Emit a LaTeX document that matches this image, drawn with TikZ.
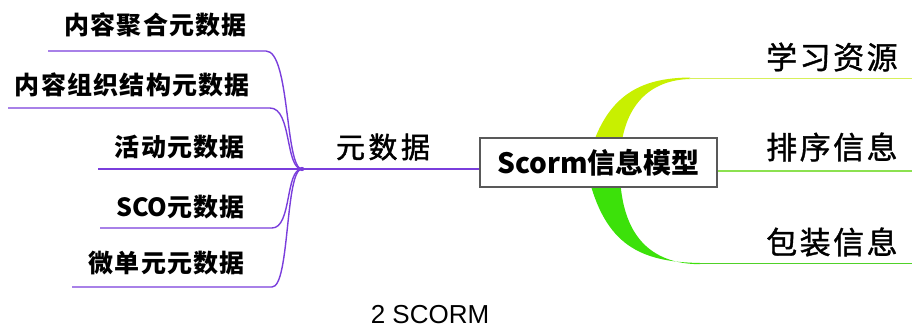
\documentclass[tikz,border=0pt]{standalone}
\usepackage{fontspec}
\setmainfont{Noto Sans CJK SC}
\newfontfamily\capfont{Liberation Sans}
\usetikzlibrary{shadows}
\definecolor{purp}{RGB}{122,62,220}
\definecolor{ygreen}{RGB}{200,240,0}
\definecolor{ylight}{RGB}{215,240,90}
\definecolor{mgreen}{RGB}{140,225,80}
\definecolor{bgreen}{RGB}{60,225,10}
\definecolor{bline}{RGB}{80,210,40}
\tikzset{
  leftlab/.style={anchor=east, inner sep=0pt, font=\fontsize{25}{28}\selectfont\bfseries\addfontfeatures{LetterSpace=5}},
  rightlab/.style={anchor=west, inner sep=0pt, font=\fontsize{31}{34}\selectfont\addfontfeatures{LetterSpace=8,FakeBold=1.2}},
  pline/.style={draw=purp, line width=1.4pt},
  centerbox/.style={draw=black!65, fill=white, line width=1.2pt, minimum width=237pt, minimum height=49pt, inner sep=0pt,
     drop shadow={shadow xshift=1.2pt, shadow yshift=-1.2pt, fill=black!30, opacity=0.5},
     font=\fontsize{28}{30}\selectfont\bfseries}
}
\begin{document}
\begin{tikzpicture}[x=1pt,y=-1pt]
\useasboundingbox (0,0) rectangle (912,329);
% coordinates
\coordinate (hub) at (302,169);
\coordinate (l1e) at (266,51);  \coordinate (l1s) at (48,51);
\coordinate (l2e) at (270,108); \coordinate (l2s) at (8,108);
\coordinate (l3s) at (98,169);
\coordinate (l4e) at (272,228); \coordinate (l4s) at (100,228);
\coordinate (l5e) at (272,287); \coordinate (l5s) at (72,287);
% green tapered branches (behind the box)
\fill[ygreen] (588,160) .. controls (605,95) and (640,78) .. (690,77.5)
   -- (690,79) .. controls (650,80) and (622,105) .. (620,160) -- cycle;
\draw[ylight, line width=1.3pt] (689,78.2) -- (912,78.2) coordinate (r1);
\fill[bgreen] (588,175) .. controls (605,245) and (640,262) .. (700,263)
   -- (700,264.2) .. controls (650,264) and (622,235) .. (620,175) -- cycle;
\draw[bline, line width=1.3pt] (699,263.6) -- (912,263.6) coordinate (r3);
% center node
\node[centerbox] (center) at (598.5,162.5) {Scorm信息模型};
\coordinate (r2) at (912,171);
\draw[mgreen, line width=1.3pt] (center.east |- r2) -- (r2);
% purple branches
\draw[pline] (hub) -- (center.west |- hub);
\fill[purp] (hub) circle (2.2pt);
\draw[pline] (hub) .. controls (285,169) and (290,51) .. (l1e) -- (l1s);
\draw[pline] (hub) .. controls (285,169) and (292,108) .. (l2e) -- (l2s);
\draw[pline] (hub) -- (l3s);
\draw[pline] (hub) .. controls (285,169) and (292,228) .. (l4e) -- (l4s);
\draw[pline] (hub) .. controls (285,169) and (290,287) .. (l5e) -- (l5s);
% labels
\node[leftlab] (t1) at (247,25) {内容聚合元数据};
\node[leftlab] (t2) at (250,85) {内容组织结构元数据};
\node[leftlab] (t3) at (245,147) {活动元数据};
\node[leftlab] (t4) at (245,207) {{\addfontfeatures{LetterSpace=0}SCO}元数据};
\node[leftlab] (t5) at (245,263) {微单元元数据};
\node[anchor=center, inner sep=0pt, font=\fontsize{29}{32}\selectfont\addfontfeatures{LetterSpace=12,FakeBold=1.5}] (meta) at (383,147) {元数据};
\node[rightlab] (s1) at (766,57) {学习资源};
\node[rightlab] (s2) at (766,147) {排序信息};
\node[rightlab] (s3) at (766,242) {包装信息};
\node[inner sep=0pt, font=\capfont\fontsize{26}{28}\selectfont] (cap) at (430,315) {2 SCORM};
\end{tikzpicture}
\end{document}
